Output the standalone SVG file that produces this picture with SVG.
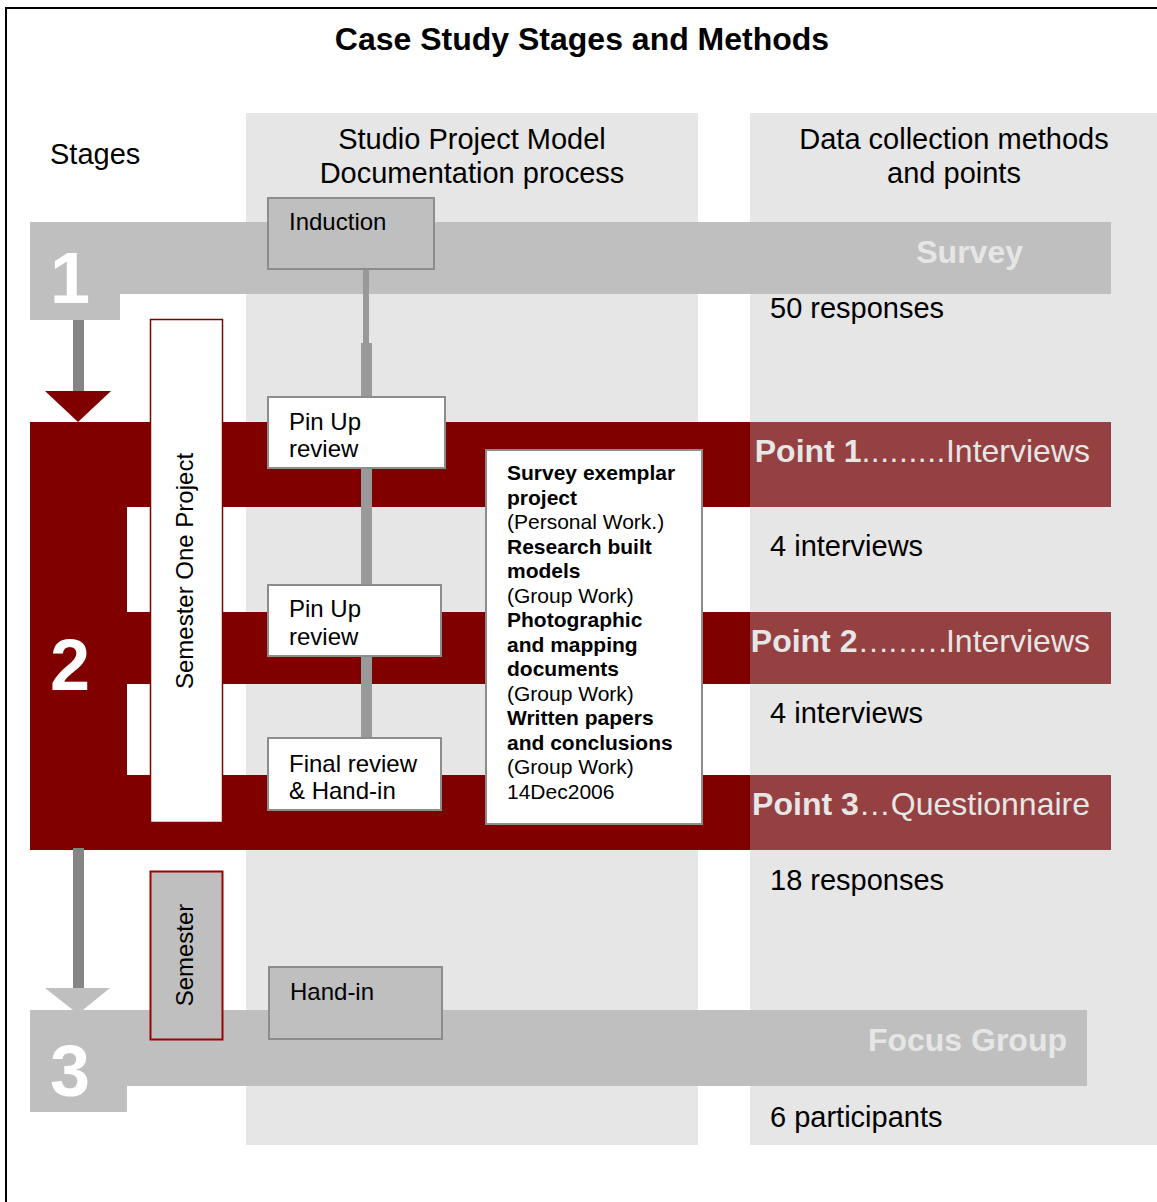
<svg xmlns="http://www.w3.org/2000/svg" width="1157" height="1202" viewBox="0 0 1157 1202">
  <style>
    text { font-family: "Liberation Sans", Arial, sans-serif; fill: #000; }
    .col { fill: #e6e6e6; }
    .grey-band { fill: #bfbfbf; }
    .red { fill: #800000; }
    .red-light { fill: #954141; }
    .stage-num { font-size: 72px; font-weight: bold; fill: #fff; }
    .head { font-size: 29px; }
    .box-white { fill: #fff; stroke: #8c8c8c; stroke-width: 2; }
    .box-grey { fill: #bfbfbf; stroke: #8c8c8c; stroke-width: 2; }
    .box-label { font-size: 24px; }
    .method { font-size: 32px; fill: #e6e6e6; }
    .count { font-size: 29px; }
    .work { font-size: 21px; }
    .bold { font-weight: bold; }
    .flow { fill: #999999; }
    .stem { fill: #858585; }
  </style>

  <!-- frame -->
  <rect x="6" y="8" width="1160" height="1210" fill="#fff" stroke="#000" stroke-width="2"/>

  <!-- title and column headers -->
  <text x="582" y="50" text-anchor="middle" font-size="32" font-weight="bold">Case Study Stages and Methods</text>

  <!-- column backgrounds -->
  <rect class="col" x="246" y="113" width="452" height="1032"/>
  <rect class="col" x="750" y="113" width="407" height="1032"/>

  <text class="head" x="50" y="164">Stages</text>
  <text class="head" x="472" y="149" text-anchor="middle">Studio Project Model</text>
  <text class="head" x="472" y="183" text-anchor="middle">Documentation process</text>
  <text class="head" x="954" y="149" text-anchor="middle">Data collection methods</text>
  <text class="head" x="954" y="183" text-anchor="middle">and points</text>

  <!-- stage 1 -->
  <g id="stage1">
    <rect class="grey-band" x="30" y="222" width="1081" height="72"/>
    <rect class="grey-band" x="30" y="222" width="90" height="98"/>
    <text class="stage-num" x="50" y="303">1</text>
    <text class="method bold" x="1023" y="263" text-anchor="end">Survey</text>
    <text class="count" x="770" y="318">50 responses</text>
  </g>

  <!-- stage 2 -->
  <g id="stage2">
    <rect class="red" x="30" y="422" width="97" height="428"/>
    <rect class="red" x="30" y="422" width="720" height="85"/>
    <rect class="red" x="30" y="612" width="720" height="72"/>
    <rect class="red" x="30" y="775" width="720" height="75"/>
    <rect class="red-light" x="750" y="422" width="361" height="85"/>
    <rect class="red-light" x="750" y="612" width="361" height="72"/>
    <rect class="red-light" x="750" y="775" width="361" height="75"/>
    <text class="stage-num" x="50" y="690">2</text>
    <text class="method" x="1090" y="462" text-anchor="end"><tspan class="bold">Point 1</tspan><tspan letter-spacing="0.5">.........</tspan>Interviews</text>
    <text class="count" x="770" y="556">4 interviews</text>
    <text class="method" x="1090" y="652" text-anchor="end"><tspan class="bold">Point 2</tspan><tspan letter-spacing="-2.5">………</tspan>Interviews</text>
    <text class="count" x="770" y="723">4 interviews</text>
    <text class="method" x="1090" y="815" text-anchor="end"><tspan class="bold">Point 3</tspan>…Questionnaire</text>
    <text class="count" x="770" y="890">18 responses</text>
  </g>

  <!-- stage 3 -->
  <g id="stage3">
    <rect class="grey-band" x="30" y="1010" width="1057" height="76"/>
    <rect class="grey-band" x="30" y="1010" width="97" height="102"/>
    <text class="stage-num" x="50" y="1096">3</text>
    <text class="method bold" x="1067" y="1051" text-anchor="end">Focus Group</text>
    <text class="count" x="770" y="1127">6 participants</text>
  </g>

  <!-- connectors -->
  <g id="connectors">
    <rect class="stem" x="73" y="320" width="11" height="74"/>
    <polygon fill="#800000" points="45,391 111,391 78,422"/>
    <rect class="stem" x="73" y="848" width="11" height="142"/>
    <polygon fill="#bfbfbf" points="45,988 110,988 78,1014"/>
    <rect class="flow" x="363" y="269" width="6" height="76"/>
    <rect class="flow" x="361" y="343" width="11" height="54"/>
    <rect class="flow" x="361" y="468" width="11" height="117"/>
    <rect class="flow" x="361" y="656" width="11" height="82"/>
  </g>

  <!-- semester spans -->
  <g id="semester-one">
    <rect x="150.5" y="319.5" width="72" height="503" fill="#fff" stroke="#800000" stroke-width="1.5"/>
    <text class="box-label" transform="translate(193,571) rotate(-90)" text-anchor="middle">Semester One Project</text>
  </g>
  <g id="semester">
    <rect x="150.5" y="871.5" width="72" height="168" fill="#bfbfbf" stroke="#a00000" stroke-width="2"/>
    <text class="box-label" transform="translate(193,955) rotate(-90)" text-anchor="middle">Semester</text>
  </g>

  <!-- studio process nodes -->
  <g id="induction">
    <rect class="box-grey" x="268" y="198" width="166" height="71"/>
    <text class="box-label" x="289" y="230">Induction</text>
  </g>
  <g id="pinup-1">
    <rect class="box-white" x="268" y="397" width="177" height="71"/>
    <text class="box-label" x="289" y="430">Pin Up</text>
    <text class="box-label" x="289" y="457">review</text>
  </g>
  <g id="pinup-2">
    <rect class="box-white" x="268" y="585" width="173" height="71"/>
    <text class="box-label" x="289" y="617">Pin Up</text>
    <text class="box-label" x="289" y="645">review</text>
  </g>
  <g id="final-review">
    <rect class="box-white" x="268" y="738" width="173" height="72"/>
    <text class="box-label" x="289" y="772">Final review</text>
    <text class="box-label" x="289" y="799">&amp; Hand-in</text>
  </g>
  <g id="hand-in">
    <rect class="box-grey" x="269" y="967" width="173" height="72"/>
    <text class="box-label" x="290" y="1000">Hand-in</text>
  </g>

  <!-- work outputs -->
  <g id="outputs">
    <rect class="box-white" x="486" y="450" width="216" height="374"/>
    <text class="work" x="507">
      <tspan class="bold" x="507" y="480">Survey exemplar</tspan>
      <tspan class="bold" x="507" y="504.5">project</tspan>
      <tspan x="507" y="529">(Personal Work.)</tspan>
      <tspan class="bold" x="507" y="553.5">Research built</tspan>
      <tspan class="bold" x="507" y="578">models</tspan>
      <tspan x="507" y="602.5">(Group Work)</tspan>
      <tspan class="bold" x="507" y="627">Photographic</tspan>
      <tspan class="bold" x="507" y="651.5">and mapping</tspan>
      <tspan class="bold" x="507" y="676">documents</tspan>
      <tspan x="507" y="700.5">(Group Work)</tspan>
      <tspan class="bold" x="507" y="725">Written papers</tspan>
      <tspan class="bold" x="507" y="749.5">and conclusions</tspan>
      <tspan x="507" y="774">(Group Work)</tspan>
      <tspan x="507" y="798.5">14Dec2006</tspan>
    </text>
  </g>
</svg>
